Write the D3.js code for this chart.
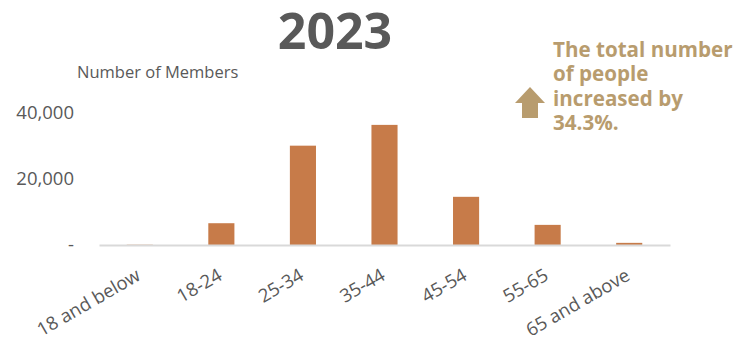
<!DOCTYPE html>
<html>
<head>
<meta charset="utf-8">
<script src="https://cdn.jsdelivr.net/npm/d3@7"></script>
<style>
  html, body { margin: 0; padding: 0; background: #fff; }
  svg { display: block; font-family: "Open Sans", "Noto Sans", sans-serif; }
</style>
</head>
<body>
<svg id="chart" width="740" height="344"></svg>
<script>
// Members by age group, 2023
const categories = ["18 and below", "18-24", "25-34", "35-44", "45-54", "55-65", "65 and above"];
const members = [80, 6600, 30100, 36400, 14600, 6100, 650];
const yTicks = [0, 20000, 40000];
const titleText = "2023";
const axisTitle = "Number of Members";
const noteLines = ["The total number", "of people", "increased by", "34.3%."];

const svg = d3.select("#chart");
const textColor = "#595959";
const barColor = "#C77B49";
const noteColor = "#B89C6E";

const x = d3.scaleBand().domain(categories).range([99, 670]).paddingInner(0.68).paddingOuter(0.34);
const y = d3.scaleLinear().domain([0, 40000]).range([245, 113]);

// title
svg.append("text")
  .attr("x", 335).attr("y", 49)
  .attr("text-anchor", "middle")
  .attr("font-size", 50).attr("font-weight", 700)
  .attr("fill", textColor)
  .text(titleText);

// axis title
svg.append("text")
  .attr("x", 77).attr("y", 78)
  .attr("font-size", 16.5)
  .attr("fill", textColor)
  .text(axisTitle);

// y tick labels
const fmt = d => d === 0 ? "-" : d3.format(",")(d);
svg.append("g").selectAll("text")
  .data(yTicks).join("text")
  .attr("x", 74)
  .attr("y", d => y(d))
  .attr("dy", "0.35em")
  .attr("text-anchor", "end")
  .attr("font-size", 18.5)
  .attr("fill", textColor)
  .text(fmt);

// bars
svg.append("g").selectAll("rect")
  .data(categories.map((c, i) => ({ c, v: members[i] })))
  .join("rect")
  .attr("x", d => x(d.c))
  .attr("width", x.bandwidth())
  .attr("y", d => y(d.v))
  .attr("height", d => y(0) - y(d.v))
  .attr("fill", barColor);

// baseline and category labels
const xAxis = d3.axisBottom(x).tickSize(0).tickPadding(0);
const gx = svg.append("g").attr("transform", `translate(0,${y(0)})`).call(xAxis);
gx.select(".domain").attr("stroke", "#d9d9d9").attr("stroke-width", 2);
gx.selectAll(".tick text")
  .attr("font-family", "'Open Sans', 'Noto Sans', sans-serif")
  .attr("font-size", 18.5)
  .attr("fill", textColor)
  .attr("text-anchor", "end")
  .attr("y", 0)
  .attr("dy", 0)
  .attr("transform", "translate(2,34) rotate(-30)");

// note with arrow
const note = svg.append("g");
note.append("path")
  .attr("d", "M515,103 L530,87 L545,103 L538,103 L538,118 L522,118 L522,103 Z")
  .attr("fill", noteColor);
note.append("text")
  .attr("font-size", 20.6)
  .attr("font-weight", 700)
  .attr("fill", noteColor)
  .selectAll("tspan")
  .data(noteLines).join("tspan")
  .attr("x", 553)
  .attr("y", (d, i) => 57 + i * 24.3)
  .text(d => d);
</script>
</body>
</html>
